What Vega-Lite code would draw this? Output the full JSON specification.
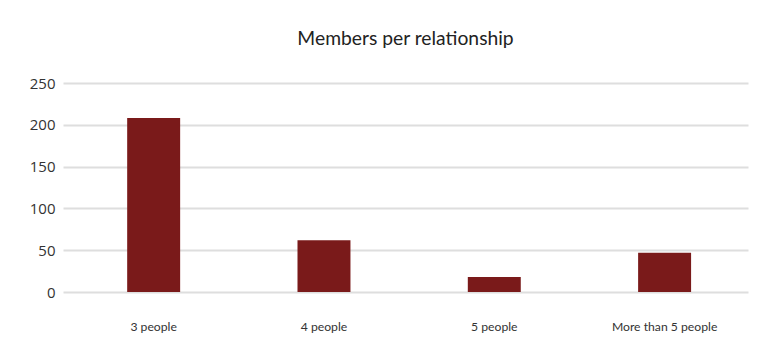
{
  "$schema": "https://vega.github.io/schema/vega-lite/v6.json",
  "width": 685,
  "height": 209,
  "autosize": {"type": "none"},
  "padding": {"left": 63, "top": 83, "right": 17, "bottom": 70},
  "background": "white",
  "title": {
    "text": "Members per relationship",
    "font": "Lato",
    "fontSize": 19.3,
    "fontWeight": "normal",
    "color": "#222222",
    "anchor": "middle",
    "offset": 27
  },
  "data": {
    "values": [
      {"category": "3 people", "members": 208},
      {"category": "4 people", "members": 62},
      {"category": "5 people", "members": 18},
      {"category": "More than 5 people", "members": 47}
    ]
  },
  "mark": {"type": "bar", "color": "#7a1a1a"},
  "encoding": {
    "x": {
      "field": "category",
      "type": "nominal",
      "sort": null,
      "scale": {"paddingInner": 0.689, "paddingOuter": 0.3555, "align": 0.53},
      "axis": {
        "title": null,
        "labelAngle": 0,
        "domain": false,
        "ticks": false,
        "labelPadding": 28,
        "labelFont": "Lato",
        "labelFontSize": 12.2,
        "labelColor": "#333333"
      }
    },
    "y": {
      "field": "members",
      "type": "quantitative",
      "scale": {"domain": [0, 250]},
      "axis": {
        "title": null,
        "values": [0, 50, 100, 150, 200, 250],
        "domain": false,
        "ticks": false,
        "labelPadding": 8,
        "labelFont": "Open Sans",
        "labelFontSize": 15,
        "labelColor": "#333333",
        "gridColor": "#dedede",
        "gridWidth": 2
      }
    }
  },
  "config": {"view": {"stroke": null}}
}
